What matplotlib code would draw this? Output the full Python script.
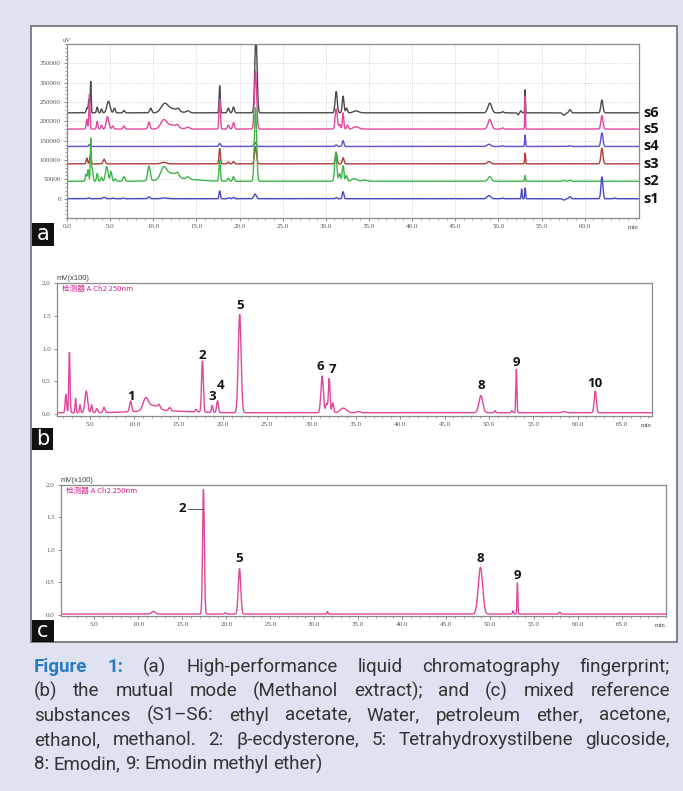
import numpy as np
import matplotlib
matplotlib.use("Agg")
import matplotlib.pyplot as plt
import matplotlib.ticker as ticker
import matplotlib.transforms as mtransforms
from matplotlib.patches import Rectangle

W, H = 683, 791

# ---- panel a: HPLC fingerprints, peaks as (retention time [min], height [uV], width [min])
a_names = ["s1", "s2", "s3", "s4", "s5", "s6"]
a_offsets = [0, 45000, 90000, 135000, 180000, 222000]
a_colors = ["#4848c4", "#3fb54a", "#b03c3c", "#5a52cf", "#e0479e", "#4a4a4a"]

s1_peaks = [(2.5, 2000, 0.1), (4.3, 3500, 0.15), (5.3, 1500, 0.1), (6.5, 1500, 0.1),
            (9.5, 5000, 0.12), (11.3, 2000, 0.3), (17.7, 20000, 0.08), (18.8, 2500, 0.1),
            (19.3, 3500, 0.1), (21.8, 12000, 0.14), (31.2, 3000, 0.1), (32.0, 18000, 0.09),
            (48.9, 8000, 0.2), (50.5, 1500, 0.1), (52.7, 25000, 0.05), (53.1, 28000, 0.05),
            (57.6, -3500, 0.15), (58.3, 5000, 0.12), (62.0, 56000, 0.11), (63.5, 1500, 0.1)]
s2_peaks = [(2.2, 18000, 0.08), (2.45, 30000, 0.08), (2.75, 100000, 0.05), (2.9, 35000, 0.1),
            (3.5, 20000, 0.08), (4.0, 10000, 0.08), (4.6, 38000, 0.15), (5.1, 25000, 0.1),
            (5.6, 6000, 0.1), (6.6, 12000, 0.12), (9.5, 38000, 0.15), (11.2, 30000, 0.35),
            (12.2, 15000, 0.6), (12.8, 8000, 0.15), (13.0, 6000, 2.0), (14.0, 6000, 0.2),
            (17.7, 55000, 0.08), (18.7, 8000, 0.1), (19.3, 12000, 0.1), (21.85, 190000, 0.13),
            (31.15, 75000, 0.12), (31.6, 20000, 0.1), (32.0, 40000, 0.1), (32.4, 15000, 0.1),
            (33.3, 7000, 0.3), (34.5, 3000, 0.3), (49.0, 12000, 0.2), (53.1, 15000, 0.05),
            (57.6, 2500, 0.1), (58.3, 3000, 0.1)]
s3_peaks = [(2.3, 15000, 0.08), (2.7, 22000, 0.08), (4.3, 12000, 0.12), (11.2, 4000, 0.3),
            (17.7, 40000, 0.08), (18.7, 5000, 0.1), (19.3, 6000, 0.1), (21.85, 45000, 0.12),
            (31.2, 30000, 0.1), (32.0, 16000, 0.1), (48.9, 6000, 0.2), (53.1, 28000, 0.05),
            (62.0, 40000, 0.12)]
s4_peaks = [(2.6, 5000, 0.08), (17.7, 8000, 0.1), (21.8, 10000, 0.12), (31.2, 4000, 0.1),
            (32.0, 15000, 0.1), (48.9, 6000, 0.2), (50.5, 2000, 0.1), (53.1, 30000, 0.05),
            (58.3, 2000, 0.1), (62.0, 35000, 0.12)]
s5_peaks = [(2.3, 25000, 0.08), (2.6, 90000, 0.06), (3.5, 20000, 0.08), (4.0, 10000, 0.08),
            (4.7, 32000, 0.15), (5.3, 8000, 0.1), (6.6, 8000, 0.1), (9.5, 18000, 0.12),
            (11.2, 22000, 0.35), (12.2, 10000, 0.6), (12.8, 6000, 0.15), (14.0, 5000, 0.2),
            (17.7, 78000, 0.08), (18.7, 10000, 0.1), (19.3, 17000, 0.1), (21.85, 150000, 0.13),
            (31.2, 52000, 0.12), (31.6, 12000, 0.1), (32.0, 42000, 0.08), (32.5, 10000, 0.1),
            (33.5, 6000, 0.3), (49.0, 25000, 0.2), (50.5, 3000, 0.1), (53.1, 85000, 0.04),
            (62.0, 35000, 0.12)]
s6_peaks = [(2.3, 12000, 0.08), (2.55, 35000, 0.08), (2.75, 80000, 0.05), (3.5, 15000, 0.08),
            (4.0, 10000, 0.08), (4.8, 30000, 0.18), (5.5, 12000, 0.1), (6.6, 6000, 0.1),
            (9.7, 12000, 0.12), (11.3, 22000, 0.4), (12.3, 10000, 0.6), (12.9, 6000, 0.15),
            (14.0, 5000, 0.2), (17.7, 70000, 0.07), (18.7, 12000, 0.1), (19.3, 15000, 0.1),
            (21.9, 200000, 0.13), (31.2, 55000, 0.12), (32.0, 43000, 0.1), (32.4, 12000, 0.1),
            (33.5, 5000, 0.3), (49.0, 25000, 0.22), (50.5, 3000, 0.1), (52.3, -5000, 0.08),
            (52.6, 5000, 0.08), (53.1, 60000, 0.04), (57.6, -6000, 0.15), (58.3, 8000, 0.12),
            (62.0, 33000, 0.12)]
a_peaks = [s1_peaks, s2_peaks, s3_peaks, s4_peaks, s5_peaks, s6_peaks]

# ---- panel b: mutual mode (methanol extract), mV(x100)
b_base = 0.02
b_peaks = [(2.3, 0.28, 0.08), (2.7, 0.92, 0.07), (3.4, 0.22, 0.06), (3.9, 0.12, 0.07),
           (4.6, 0.33, 0.15), (5.2, 0.12, 0.08), (5.8, 0.06, 0.1), (6.6, 0.08, 0.1),
           (9.6, 0.16, 0.12), (11.3, 0.18, 0.3), (12.2, 0.08, 0.6), (13.0, 0.03, 3.0),
           (12.8, 0.05, 0.12), (14.0, 0.05, 0.12), (17.0, 0.04, 0.1), (17.7, 0.78, 0.1),
           (18.8, 0.11, 0.08), (19.4, 0.18, 0.1), (21.9, 1.50, 0.16), (31.2, 0.56, 0.14),
           (31.7, 0.14, 0.1), (32.0, 0.52, 0.09), (32.4, 0.15, 0.1), (33.6, 0.07, 0.35),
           (35.3, 0.02, 0.2), (49.1, 0.26, 0.22), (50.7, 0.03, 0.08), (52.6, 0.03, 0.08),
           (53.1, 0.66, 0.06), (58.5, 0.02, 0.2), (62.0, 0.33, 0.12)]
b_labels = ["1", "2", "3", "4", "5", "6", "7", "8", "9", "10"]
b_label_x = [9.6, 17.7, 18.8, 19.7, 21.9, 31.0, 32.3, 49.1, 53.1, 62.0]
b_label_y = [0.27, 0.90, 0.26, 0.44, 1.66, 0.72, 0.68, 0.44, 0.79, 0.47]

# ---- panel c: mixed reference substances
c_base = 0.01
c_peaks = [(11.7, 0.04, 0.2), (17.4, 1.92, 0.1), (19.9, 0.02, 0.1), (21.5, 0.70, 0.14),
           (31.5, 0.04, 0.06), (48.9, 0.72, 0.25), (52.6, 0.05, 0.06), (53.1, 0.48, 0.05),
           (57.9, 0.03, 0.08)]
c_labels = ["2", "5", "8", "9"]
c_label_x = [15.0, 21.5, 48.9, 53.1]
c_label_y = [1.63, 0.86, 0.86, 0.60]

caption_lines = [
    "Figure 1: (a) High-performance liquid chromatography fingerprint;",
    "(b) the mutual mode (Methanol extract); and (c) mixed reference",
    "substances (S1\u2013S6: ethyl acetate, Water, petroleum ether, acetone,",
    "ethanol, methanol. 2: \u03b2-ecdysterone, 5: Tetrahydroxystilbene glucoside,",
    "8: Emodin, 9: Emodin methyl ether)",
]


def trace(t, peaks, base=0.0):
    y = np.full_like(t, base, dtype=float)
    for rt, h, w in peaks:
        y += h * np.exp(-0.5 * ((t - rt) / w) ** 2)
    return y


def px_axes(fig, x0, y0, x1, y1):
    ax = fig.add_axes([x0 / W, 1 - y1 / H, (x1 - x0) / W, (y1 - y0) / H])
    ax.set_zorder(2)
    return ax


def style_axes(ax, xmin, xmax, xticks):
    ax.set_xlim(xmin, xmax)
    ax.set_xticks(xticks)
    ax.set_xticklabels([f"{v:.1f}" for v in xticks])
    ax.xaxis.set_minor_locator(ticker.MultipleLocator(1))
    for s in ax.spines.values():
        s.set_color("#8a8a8a")
        s.set_linewidth(0.9)
    ax.tick_params(which="major", labelsize=5, colors="#777777", labelcolor="#555555",
                   length=2.5, width=0.6, pad=2)
    ax.tick_params(which="minor", colors="#777777", length=1.5, width=0.5)
    for lab in ax.get_xticklabels() + ax.get_yticklabels():
        lab.set_family("Liberation Serif")
    ax.annotate("min", xy=(0.99, 0), xycoords="axes fraction", xytext=(0, -5),
                textcoords="offset points", ha="center", va="top", fontsize=5,
                color="#555555", family="Liberation Serif")


def panel_tag(fig, x0, y0, x1, y1, letter):
    fig.patches.append(Rectangle((x0 / W, 1 - y1 / H), (x1 - x0) / W, (y1 - y0) / H,
                                 transform=fig.transFigure, facecolor="#111111",
                                 edgecolor="none", zorder=5))
    fig.text((x0 + x1) / 2 / W, 1 - (y0 + y1) / 2 / H, letter, color="white",
             fontsize=15, ha="center", va="center", family="DejaVu Sans", zorder=6)


fig = plt.figure(figsize=(W / 100, H / 100), dpi=100)
fig.patch.set_facecolor("#dfe3f1")
fig.patches.append(Rectangle((31 / W, 1 - 642 / H), (677 - 31) / W, (642 - 26) / H,
                             transform=fig.transFigure, facecolor="white",
                             edgecolor="#6e6e6e", linewidth=1.2, zorder=-5))

# ---- panel a
ax = px_axes(fig, 67, 44, 639, 218)
t = np.linspace(0, 66.3, 6000)
for name, off, col, pk in reversed(list(zip(a_names, a_offsets, a_colors, a_peaks))):
    ax.plot(t, trace(t, pk, off), color=col, lw=1.0)
style_axes(ax, 0, 66.3, np.arange(0, 61, 5))
ax.set_ylim(-50000, 400000)
ax.set_yticks(np.arange(0, 350001, 50000))
ax.set_yticklabels([str(v) for v in range(0, 350001, 50000)])
ax.yaxis.set_minor_locator(ticker.MultipleLocator(10000))
for lab in ax.get_yticklabels():
    lab.set_family("Liberation Serif")
ax.grid(True, which="major", ls=":", lw=0.6, color="#c8c8c8")
ax.text(0, 1.005, "uV", transform=ax.transAxes, ha="center", va="bottom",
        fontsize=5, color="#555555", family="Liberation Serif")
trans = mtransforms.blended_transform_factory(ax.transAxes, ax.transData)
for name, off in zip(a_names, a_offsets):
    ax.text(1.008, off, name, transform=trans, ha="left", va="center",
            fontsize=10.5, fontweight="bold", color="#111111", family="Open Sans")
panel_tag(fig, 32, 223, 54, 246, "a")

# ---- panel b
axb = px_axes(fig, 57, 283, 652, 416)
tb = np.linspace(1.3, 68.4, 6000)
axb.plot(tb, trace(tb, b_peaks, b_base), color="#e0459c", lw=1.0)
style_axes(axb, 1.3, 68.4, np.arange(5, 66, 5))
axb.set_ylim(-0.03, 2.0)
axb.set_yticks([0.0, 0.5, 1.0, 1.5, 2.0])
axb.set_yticklabels(["0.0", "0.5", "1.0", "1.5", "2.0"])
for lab in axb.get_yticklabels():
    lab.set_family("Liberation Serif")
for lab, x, y in zip(b_labels, b_label_x, b_label_y):
    axb.text(x, y, lab, ha="center", va="center", fontsize=9.5, fontweight="bold",
             color="#111111", family="Open Sans")
axb.text(0.0, 1.005, "mV(x100)", transform=axb.transAxes, ha="left", va="bottom",
         fontsize=5.5, color="#444444", family="Liberation Sans")
axb.text(0.008, 0.985, "检测器 A Ch2 250nm", transform=axb.transAxes, ha="left", va="top",
         fontsize=5.5, color="#d0248c", family=["Noto Sans CJK SC", "DejaVu Sans"])
panel_tag(fig, 32, 428, 53, 450, "b")

# ---- panel c
axc = px_axes(fig, 61, 485, 666, 616)
tc = np.linspace(1.2, 70.0, 6000)
axc.plot(tc, trace(tc, c_peaks, c_base), color="#e0459c", lw=1.0)
style_axes(axc, 1.2, 70.0, np.arange(5, 66, 5))
axc.set_ylim(-0.02, 2.0)
axc.set_yticks([0.0, 0.5, 1.0, 1.5, 2.0])
axc.set_yticklabels(["0.0", "0.5", "1.0", "1.5", "2.0"])
for lab in axc.get_yticklabels():
    lab.set_family("Liberation Serif")
for lab, x, y in zip(c_labels, c_label_x, c_label_y):
    axc.text(x, y, lab, ha="center", va="center", fontsize=9.5, fontweight="bold",
             color="#111111", family="Open Sans")
axc.plot([c_label_x[0] + 0.6, c_peaks[1][0] - 0.1], [c_label_y[0], c_label_y[0]],
         color="#555555", lw=0.7)
axc.text(0.0, 1.005, "mV(x100)", transform=axc.transAxes, ha="left", va="bottom",
         fontsize=5.5, color="#444444", family="Liberation Sans")
axc.text(0.008, 0.985, "检测器 A Ch2 250nm", transform=axc.transAxes, ha="left", va="top",
         fontsize=5.5, color="#d0248c", family=["Noto Sans CJK SC", "DejaVu Sans"])
panel_tag(fig, 32, 620, 54, 642, "c")

# ---- caption, justified between x=34 and x=670
renderer = fig.canvas.get_renderer()
left, right = 34, 670
cap_font = ["Roboto", "DejaVu Sans"]
cap_size = 13.5
for i, line in enumerate(caption_lines):
    yc = 1 - (667 + 24.3 * i) / H
    words = line.split(" ")
    texts = []
    for j, w in enumerate(words):
        bold = i == 0 and j < 2
        texts.append(fig.text(0, yc, w, fontsize=cap_size, va="center", ha="left",
                              family=cap_font,
                              fontweight="bold" if bold else "normal",
                              color="#2a7cc1" if bold else "#333333"))
    widths = [tx.get_window_extent(renderer).width for tx in texts]
    if i == len(caption_lines) - 1:
        space = fig.text(0, 0, "a a", fontsize=cap_size, family=cap_font)
        aa = fig.text(0, 0, "aa", fontsize=cap_size, family=cap_font)
        gap = space.get_window_extent(renderer).width - aa.get_window_extent(renderer).width
        space.remove()
        aa.remove()
    else:
        gap = (right - left - sum(widths)) / (len(words) - 1)
    x = left
    for tx, w in zip(texts, widths):
        tx.set_x(x / W)
        x += w + gap

fig.savefig("out.png", dpi=100, facecolor=fig.get_facecolor())
